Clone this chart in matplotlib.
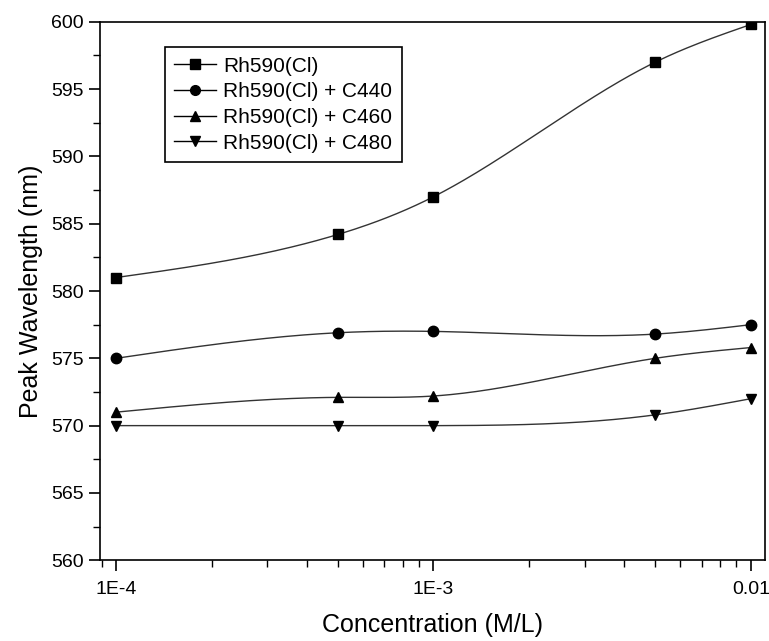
import matplotlib
matplotlib.use("Agg")
import matplotlib.pyplot as plt
from matplotlib.ticker import FixedLocator, FixedFormatter, MultipleLocator, LogLocator, NullFormatter
import numpy as np

plt.rcParams['font.family'] = ['Liberation Sans', 'DejaVu Sans']

conc = [1e-4, 5e-4, 1e-3, 5e-3, 1e-2]
rh590 = [581.0, 584.2, 587.0, 597.0, 599.8]
rh590_c440 = [575.0, 576.9, 577.0, 576.8, 577.5]
rh590_c460 = [571.0, 572.1, 572.2, 575.0, 575.8]
rh590_c480 = [570.0, 570.0, 570.0, 570.8, 572.0]

series = [
    ("Rh590(Cl)", rh590, 's'),
    ("Rh590(Cl) + C440", rh590_c440, 'o'),
    ("Rh590(Cl) + C460", rh590_c460, '^'),
    ("Rh590(Cl) + C480", rh590_c480, 'v'),
]


def natural_spline(x, y, n=200):
    # natural cubic spline, used only to draw the smooth connecting line
    x = np.asarray(x, float)
    y = np.asarray(y, float)
    m = len(x)
    h = np.diff(x)
    A = np.zeros((m, m))
    b = np.zeros(m)
    A[0, 0] = 1
    A[-1, -1] = 1
    for i in range(1, m - 1):
        A[i, i - 1] = h[i - 1]
        A[i, i] = 2 * (h[i - 1] + h[i])
        A[i, i + 1] = h[i]
        b[i] = 3 * ((y[i + 1] - y[i]) / h[i] - (y[i] - y[i - 1]) / h[i - 1])
    c = np.linalg.solve(A, b)
    xs = np.linspace(x[0], x[-1], n)
    ys = np.empty_like(xs)
    for k, xv in enumerate(xs):
        i = min(np.searchsorted(x, xv, side='right') - 1, m - 2)
        dx = xv - x[i]
        bb = (y[i + 1] - y[i]) / h[i] - h[i] * (2 * c[i] + c[i + 1]) / 3
        d = (c[i + 1] - c[i]) / (3 * h[i])
        ys[k] = y[i] + bb * dx + c[i] * dx ** 2 + d * dx ** 3
    return xs, ys


fig = plt.figure(figsize=(7.69, 6.41), dpi=100)
ax = fig.add_axes([0.130, 0.126, 0.865, 0.840])

lx = np.log10(conc)
for label, vals, mk in series:
    xs, ys = natural_spline(lx, vals)
    ax.plot(10 ** xs, ys, color='#333333', lw=1.0)
    ax.plot(conc, vals, linestyle='none', marker=mk, color='black', markersize=7.5)
    # legend proxy
    ax.plot([], [], color='black', lw=1.0, marker=mk, markersize=7, label=label)

ax.set_xscale('log')
ax.set_xlim(0.89e-4, 0.0111)
ax.set_ylim(560, 600)

ax.xaxis.set_major_locator(FixedLocator([1e-4, 1e-3, 1e-2]))
ax.xaxis.set_major_formatter(FixedFormatter(['1E-4', '1E-3', '0.01']))
ax.xaxis.set_minor_locator(LogLocator(base=10, subs=np.arange(2, 10)))
ax.xaxis.set_minor_formatter(NullFormatter())
ax.yaxis.set_major_locator(MultipleLocator(5))
ax.yaxis.set_minor_locator(MultipleLocator(2.5))

ax.tick_params(which='major', direction='out', length=8, width=1.2, labelsize=14, top=False, right=False)
ax.tick_params(axis='x', which='major', pad=7)
ax.tick_params(which='minor', direction='out', length=5, width=1.0, top=False, right=False)
for s in ax.spines.values():
    s.set_linewidth(1.2)

ax.set_xlabel('Concentration (M/L)', fontsize=18, labelpad=11)
ax.set_ylabel('Peak Wavelength (nm)', fontsize=18, labelpad=6)

handles, labels = ax.get_legend_handles_labels()
leg = ax.legend(handles, labels, loc='upper left', bbox_to_anchor=(0.082, 0.972),
                fontsize=15, frameon=True, fancybox=False, framealpha=1,
                edgecolor='black', handlelength=2.0, handletextpad=0.35,
                borderpad=0.45, labelspacing=0.32)
leg.get_frame().set_linewidth(1.2)

fig.savefig('out.png', dpi=100)
